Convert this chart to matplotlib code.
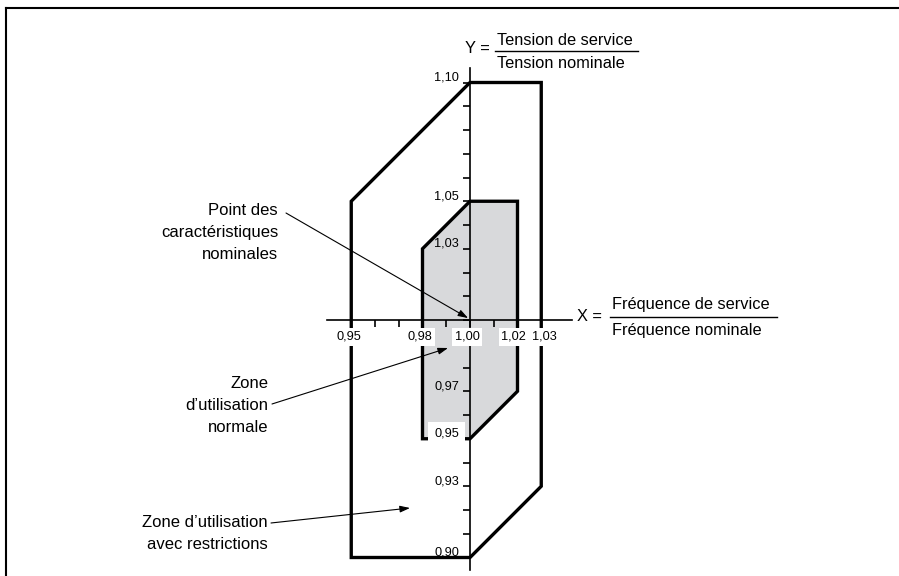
import matplotlib
matplotlib.use('Agg')
import matplotlib.pyplot as plt
from matplotlib.patches import Polygon

plt.rcParams['font.family'] = ['Liberation Sans', 'DejaVu Sans']

# zones in relative values (x = frequency, y = voltage)
outer_x = [0.95, 1.00, 1.03, 1.03, 1.00, 0.95]
outer_y = [1.05, 1.10, 1.10, 0.93, 0.90, 0.90]
inner_x = [0.98, 1.00, 1.02, 1.02, 1.00, 0.98]
inner_y = [1.03, 1.05, 1.05, 0.97, 0.95, 0.95]

x_ticks = [0.95, 0.96, 0.97, 0.98, 0.99, 1.00, 1.01, 1.02, 1.03]
x_labels = [0.95, 0.98, 1.00, 1.02, 1.03]
y_ticks = [0.90, 0.91, 0.92, 0.93, 0.94, 0.95, 0.96, 0.97, 0.98, 0.99, 1.00,
           1.01, 1.02, 1.03, 1.04, 1.05, 1.06, 1.07, 1.08, 1.09, 1.10]
y_labels = [0.90, 0.93, 0.95, 0.97, 1.03, 1.05, 1.10]
y_boxed = [0.95]
x_axis_range = [0.9398, 1.0430]
y_axis_range = [0.8947, 1.1061]

PX = 2375.0          # pixels per unit, same on both axes
ORIG = (470, 320)    # pixel position of (1.00, 1.00)
TICK = 7 / PX
x_label_nudge = [-2.5, -2.5, -3, -4, 3]   # px, label offsets from tick


def fmt(v):
    return f"{v:.2f}".replace('.', ',')


fig = plt.figure(figsize=(8.99, 5.76), dpi=100)
ax = fig.add_axes([6 / 899, 0, 893 / 899, 568 / 576])
ax.set_xlim(1 + (6 - ORIG[0]) / PX, 1 + (899 - ORIG[0]) / PX)
ax.set_ylim(1 - (576 - ORIG[1]) / PX, 1 + (ORIG[1] - 8) / PX)
ax.set_xticks([])
ax.set_yticks([])
for side in ['right', 'bottom']:
    ax.spines[side].set_visible(False)
for side in ['top', 'left']:
    ax.spines[side].set_linewidth(1.5)

ax.add_patch(Polygon(list(zip(outer_x, outer_y)), closed=True, facecolor='white',
                     edgecolor='black', lw=2.4, joinstyle='miter', zorder=1))
ax.add_patch(Polygon(list(zip(inner_x, inner_y)), closed=True, facecolor='#d8d9db',
                     edgecolor='black', lw=2.4, joinstyle='miter', zorder=2))

# axes through the nominal point
ax.plot(x_axis_range, [1.0, 1.0], color='black', lw=1.2, zorder=3)
ax.plot([1.0, 1.0], y_axis_range, color='black', lw=1.2, zorder=3)
ax.vlines(x_ticks, 1.0 - TICK, 1.0, color='black', lw=1.2, zorder=3)
ax.hlines(y_ticks, 1.0 - TICK, 1.0, color='black', lw=1.2, zorder=3)

box = dict(facecolor='white', edgecolor='none', boxstyle='square,pad=0.2')
big_box = dict(facecolor='white', edgecolor='none', boxstyle='square,pad=0.45')
for v, n in zip(x_labels, x_label_nudge):
    ax.text(v + n / PX, 0.99158, fmt(v), fontsize=9.2, ha='center', va='baseline',
            bbox=box, zorder=5)
for v in y_labels:
    ax.text(0.99537, v + 2 / PX, fmt(v), fontsize=9.2, ha='right', va='baseline',
            bbox=big_box if v in y_boxed else None, zorder=5)

# axis titles
fs = 11.8
ax.text(0.99789, 1.11242, 'Y =', fontsize=fs, ha='left', va='baseline')
ax.text(1.01137, 1.11579, 'Tension de service', fontsize=fs, ha='left', va='baseline')
ax.text(1.01137, 1.10611, 'Tension nominale', fontsize=fs, ha='left', va='baseline')
ax.plot([1.01053, 1.07074], [1.11326, 1.11326], color='black', lw=1.0)

ax.text(1.04505, 0.99958, 'X =', fontsize=fs, ha='left', va='baseline')
ax.text(1.05979, 1.00463, 'Fréquence de service', fontsize=fs, ha='left', va='baseline')
ax.text(1.05979, 0.99368, 'Fréquence nominale', fontsize=fs, ha='left', va='baseline')
ax.plot([1.05895, 1.12926], [1.00126, 1.00126], color='black', lw=1.0)

# callouts
step = 22 / PX
callouts = [
    (0.91916, 1.04442, ['Point des', 'caractéristiques', 'nominales'],
     (0.92253, 1.04505), (0.9992, 1.0008)),
    (0.91495, 0.97137, ['Zone', 'd\u2019utilisation', 'normale'],
     (0.91663, 0.96463), (0.99074, 0.98821)),
    (0.91495, 0.91284, ['Zone d\u2019utilisation', 'avec restrictions'],
     (0.91621, 0.91453), (0.97474, 0.92084)),
]
for tx, ty, lines, tail, head in callouts:
    for i, line in enumerate(lines):
        ax.text(tx, ty - i * step, line, fontsize=12, ha='right', va='baseline')
    ax.annotate('', xy=head, xytext=tail, zorder=6,
                arrowprops=dict(arrowstyle='-|>,head_length=0.6,head_width=0.2',
                                color='black', lw=0.8, mutation_scale=10,
                                shrinkA=0, shrinkB=0))

fig.savefig('out.png', dpi=100)
